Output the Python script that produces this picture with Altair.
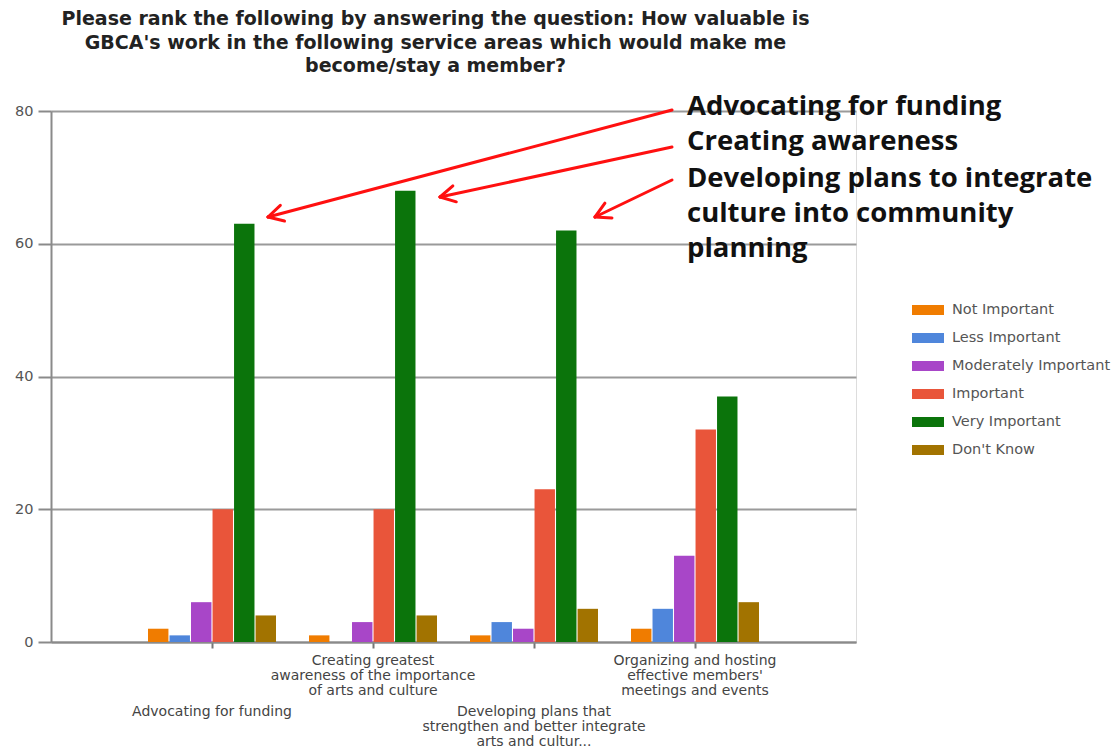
import math
import altair as alt
import pandas as pd

# ---------------- data ----------------
categories = [
    "Advocating for funding",
    "Creating greatest awareness of the importance of arts and culture",
    "Developing plans that strengthen and better integrate arts and cultur...",
    "Organizing and hosting effective members' meetings and events",
]
category_labels = [
    "Advocating for funding",
    "Creating greatest\nawareness of the importance\nof arts and culture",
    "Developing plans that\nstrengthen and better integrate\narts and cultur...",
    "Organizing and hosting\neffective members'\nmeetings and events",
]
label_row = [1, 0, 1, 0]  # 0 = upper row, 1 = lower row (staggered labels)

series = ["Not Important", "Less Important", "Moderately Important",
          "Important", "Very Important", "Don't Know"]
colors = ["#F07C00", "#4F86DB", "#A846C8", "#E9553A", "#0B740B", "#A27300"]

not_important = [2, 1, 1, 2]
less_important = [1, 0, 3, 5]
moderately_important = [6, 3, 2, 13]
important = [20, 20, 23, 32]
very_important = [63, 68, 62, 37]
dont_know = [4, 4, 5, 6]

title_lines = [
    "Please rank the following by answering the question: How valuable is",
    "GBCA's work in the following service areas which would make me",
    "become/stay a member?",
]

annotation_texts = [
    "Advocating for funding",
    "Creating awareness",
    "Developing plans to integrate\nculture into community\nplanning",
]

# ---------------- tables ----------------
values = [not_important, less_important, moderately_important,
          important, very_important, dont_know]
rows = []
for s, vals in zip(series, values):
    for c, v in zip(categories, vals):
        rows.append({"category": c, "series": s, "value": v})
df = pd.DataFrame(rows)

lab_df = pd.DataFrame({"category": categories, "label": category_labels, "row": label_row})

# annotation overlay (pixel space, relative to plot origin)
ann_x = 636
ann_y = [4, 39, 76]
ann_df = pd.DataFrame({"text": annotation_texts, "px": [ann_x] * 3, "py": ann_y})

arrow_start = [(621, -1), (621, 36), (621, 69)]
arrow_tip = [(217, 106), (389, 86), (544, 106)]
segs = []
for (sx, sy), (tx, ty) in zip(arrow_start, arrow_tip):
    segs.append({"x": sx, "y": sy, "x2": tx, "y2": ty})
    ang = math.atan2(sy - ty, sx - tx)
    for d in (0.5, -0.5):
        segs.append({"x": tx, "y": ty,
                     "x2": tx + 17 * math.cos(ang + d),
                     "y2": ty + 17 * math.sin(ang + d)})
seg_df = pd.DataFrame(segs)

# ---------------- chart ----------------
W, H = 805, 531
FONT = "DejaVu Sans"

x_enc = alt.X(
    "category:N", sort=categories,
    scale=alt.Scale(paddingInner=0.205, paddingOuter=0.6025),
    axis=alt.Axis(title=None, labels=False, ticks=True, tickSize=6,
                  tickColor="#777777", tickWidth=2,
                  domainColor="#8a8a8a", domainWidth=2, grid=False),
)

bars = alt.Chart(df).mark_bar().encode(
    x=x_enc,
    xOffset=alt.XOffset("series:N", sort=series, scale=alt.Scale(paddingInner=0.05)),
    y=alt.Y("value:Q", scale=alt.Scale(domain=[0, 80]),
            axis=alt.Axis(title=None, values=[0, 20, 40, 60, 80], tickSize=13,
                          tickColor="#8a8a8a", tickWidth=2,
                          grid=True, gridColor="#9a9a9a", gridWidth=2,
                          domainColor="#8a8a8a", domainWidth=2,
                          labelFont=FONT, labelFontSize=14.5, labelColor="#555555",
                          labelPadding=5)),
    color=alt.Color("series:N", sort=series,
                    scale=alt.Scale(domain=series, range=colors),
                    legend=alt.Legend(
                        title=None, orient="none", legendX=867, legendY=189,
                        symbolType="M-1.6,-0.5H1.6V0.5H-1.6Z", symbolSize=400,
                        symbolStrokeWidth=0, labelFont=FONT, labelFontSize=14.5,
                        labelColor="#555555", rowPadding=11, labelOffset=14)),
)

upper = alt.Chart(lab_df).transform_filter("datum.row == 0").mark_text(
    baseline="top", align="center", lineBreak="\n", font=FONT,
    fontSize=14, lineHeight=15, color="#444444",
).encode(x=alt.X("category:N", sort=categories), y=alt.value(543), text="label:N")

lower = alt.Chart(lab_df).transform_filter("datum.row == 1").mark_text(
    baseline="top", align="center", lineBreak="\n", font=FONT,
    fontSize=14, lineHeight=15, color="#444444",
).encode(x=alt.X("category:N", sort=categories), y=alt.value(594), text="label:N")

arrows = alt.Chart(seg_df).mark_rule(color="#FF1010", strokeWidth=3, strokeCap="round").encode(
    x=alt.X("x:Q", scale=None, axis=None),
    y=alt.Y("y:Q", scale=None, axis=None),
    x2="x2:Q", y2="y2:Q",
)

ann = alt.Chart(ann_df).mark_text(
    align="left", baseline="alphabetic", lineBreak="\n", font="Open Sans",
    fontSize=27.5, fontWeight="bold", lineHeight=35, color="#111111",
).encode(
    x=alt.X("px:Q", scale=None, axis=None),
    y=alt.Y("py:Q", scale=None, axis=None),
    text="text:N",
)

chart = alt.layer(bars, upper, lower, arrows, ann).properties(
    width=W, height=H,
    autosize=alt.AutoSizeParams(type="none"),
    padding={"left": 51, "top": 111, "right": 260, "bottom": 106},
    title=alt.TitleParams(text=title_lines, font=FONT, fontSize=19,
                          fontWeight="bold", color="#222222", lineHeight=23.5,
                          anchor="middle", frame="group", dx=-18, offset=17),
).configure_view(stroke=None).configure(background="white")

chart.save("out.html", embed_options={"renderer": "svg", "actions": False})
